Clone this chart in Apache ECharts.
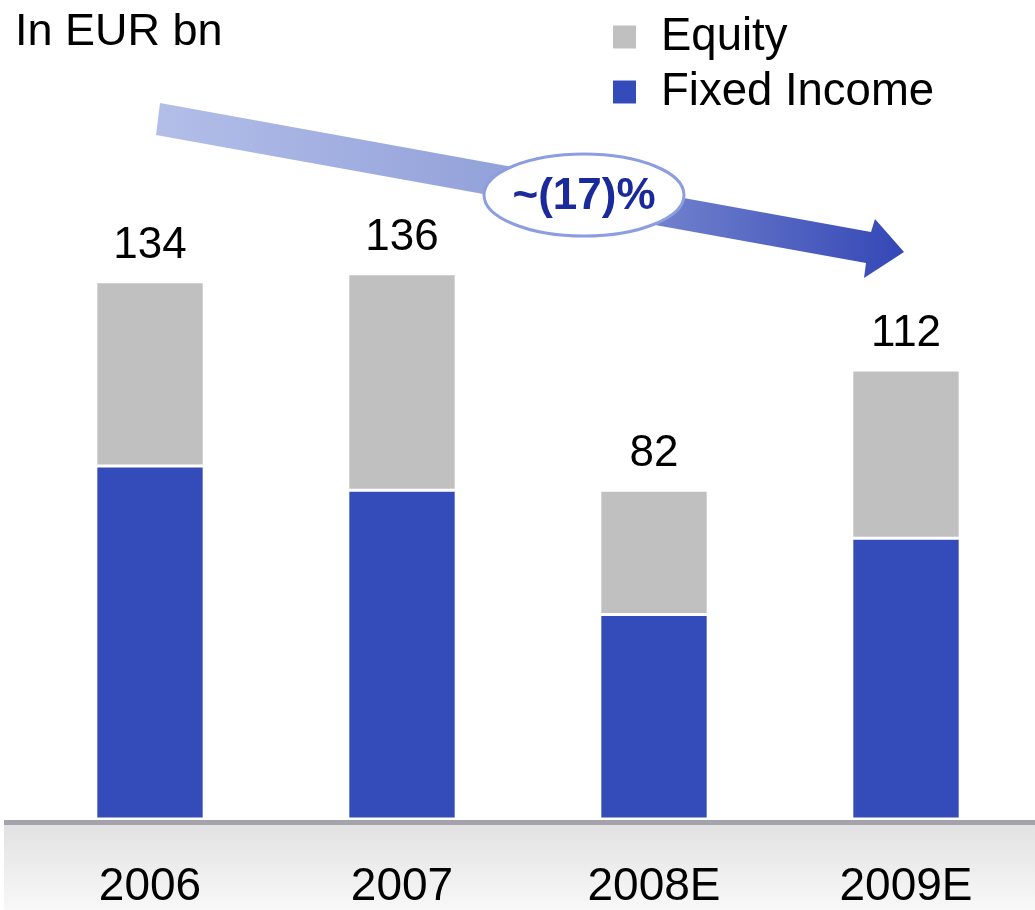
<!DOCTYPE html>
<html>
<head>
<meta charset="utf-8">
<script src="https://cdn.jsdelivr.net/npm/echarts@6/dist/echarts.min.js"></script>
<style>
  html, body { margin: 0; padding: 0; background: #fff; }
  #chart { width: 1035px; height: 910px; }
</style>
</head>
<body>
<div id="chart"></div>
<script>
const years = ["2006", "2007", "2008E", "2009E"];
const fixedIncome = [88, 82, 51, 70];
const equity = [46, 54, 31, 42];
const totals = [134, 136, 82, 112];
const changeLabel = "~(17)%";

const font = "Liberation Sans, Arial, sans-serif";
const chart = echarts.init(document.getElementById("chart"));

chart.setOption({
  animation: false,
  textStyle: { fontFamily: font },
  title: {
    text: "In EUR bn",
    left: 10,
    top: 5,
    textStyle: { fontSize: 45, fontWeight: "normal", color: "#000", fontFamily: font },
  },
  legend: {
    orient: "vertical",
    left: 606,
    top: 9,
    itemWidth: 25,
    itemHeight: 25,
    itemGap: 9,
    icon: "rect",
    data: ["Equity", "Fixed Income"],
    textStyle: { fontSize: 45.5, color: "#000", fontFamily: font, padding: [0, 0, 0, 19] },
  },
  grid: { left: 24, right: 3, top: 17, bottom: 90 },
  xAxis: {
    type: "category",
    data: years,
    axisLine: { show: false },
    axisTick: { show: false },
    axisLabel: { fontSize: 46, color: "#000", margin: 45, fontFamily: font },
  },
  yAxis: {
    type: "value",
    min: 0,
    max: 200,
    show: false,
    splitLine: { show: false },
  },
  series: [
    {
      name: "Fixed Income",
      type: "bar",
      stack: "total",
      barWidth: "43%",
      data: fixedIncome,
      itemStyle: { color: "#344cb9", borderColor: "#fff", borderWidth: 1.5 },
    },
    {
      name: "Equity",
      type: "bar",
      stack: "total",
      data: equity,
      itemStyle: { color: "#c0c0c0", borderColor: "#fff", borderWidth: 1.5 },
      label: {
        show: true,
        position: "top",
        distance: 14,
        fontSize: 44,
        color: "#000",
        fontFamily: font,
        formatter: (p) => String(totals[p.dataIndex]),
      },
    },
  ],
  graphic: [
    {
      type: "rect",
      z: 0,
      shape: { x: 4, y: 825, width: 1031, height: 85 },
      style: {
        fill: new echarts.graphic.LinearGradient(0, 0, 0, 1, [
          { offset: 0, color: "#e2e2e2" },
          { offset: 1, color: "#f8f8f8" },
        ]),
      },
    },
    {
      type: "rect",
      z: 10,
      shape: { x: 4, y: 820, width: 1031, height: 5 },
      style: { fill: "#a4a3ac" },
    },
    {
      type: "polygon",
      z: 10,
      shape: {
        points: [
          [160, 103],
          [871, 232],
          [875, 219],
          [904, 252],
          [864, 278],
          [866, 263],
          [156, 135],
        ],
      },
      style: {
        fill: new echarts.graphic.LinearGradient(0, 0, 1, 0, [
          { offset: 0, color: "#b3bee8" },
          { offset: 0.5, color: "#909fd9" },
          { offset: 1, color: "#3447b6" },
        ]),
      },
    },
    {
      type: "ellipse",
      z: 11,
      shape: { cx: 584, cy: 195, rx: 100, ry: 41 },
      style: { fill: "#fff", stroke: "#8d9ee0", lineWidth: 3 },
    },
    {
      type: "text",
      z: 12,
      x: 584,
      y: 197,
      style: {
        text: changeLabel,
        fontSize: 44,
        fontWeight: "bold",
        fontFamily: font,
        fill: "#1a2a9c",
        align: "center",
        verticalAlign: "middle",
      },
    },
  ],
});
</script>
</body>
</html>
